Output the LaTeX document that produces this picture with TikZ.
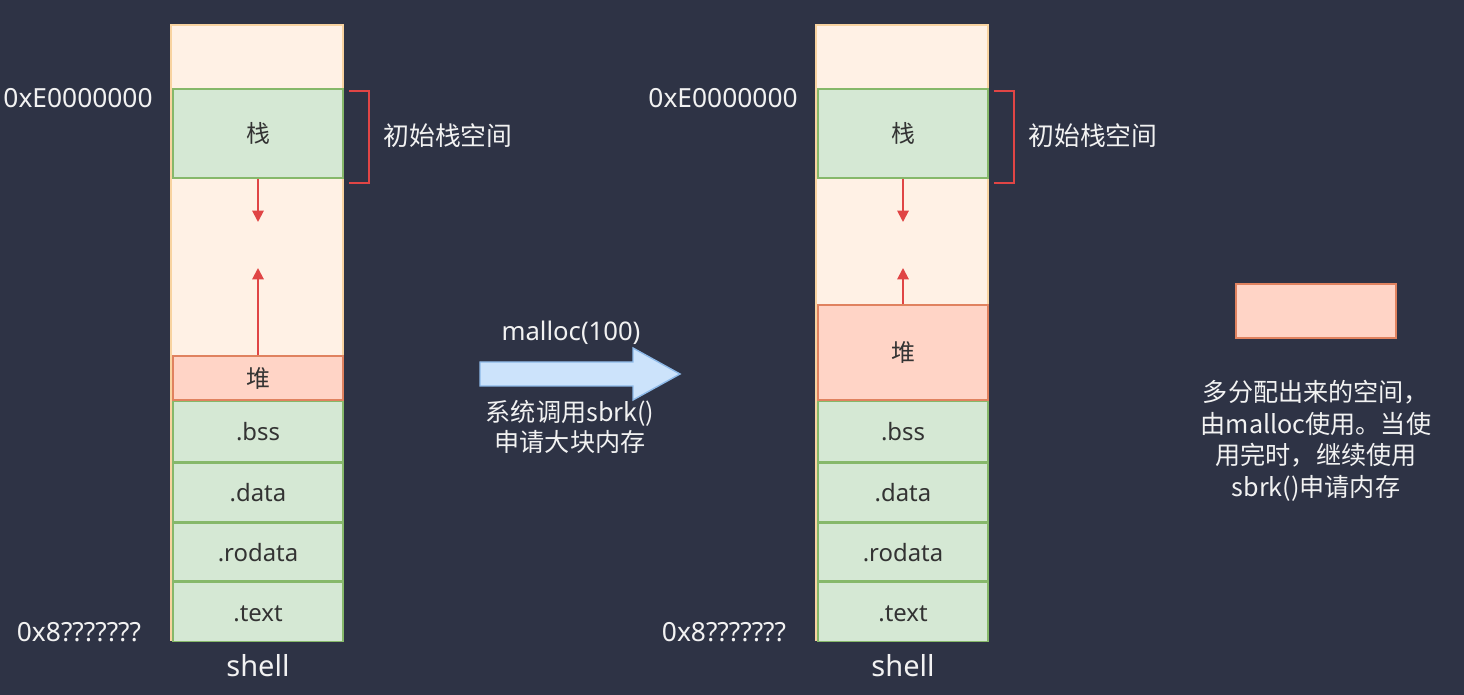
\documentclass[tikz,border=0pt]{standalone}
\usepackage{fontspec}
\setmainfont{Noto Sans}
\newfontfamily\cjk{Noto Sans CJK SC}
\usetikzlibrary{positioning,calc,arrows.meta}

\definecolor{bgslate}{HTML}{2E3345}
\definecolor{memfill}{HTML}{FFF1E5}
\definecolor{memline}{HTML}{F8D3A0}
\definecolor{segfill}{HTML}{D5E8D4}
\definecolor{segline}{HTML}{86B86A}
\definecolor{heapfill}{HTML}{FFD4C6}
\definecolor{heapline}{HTML}{E0825F}
\definecolor{growred}{HTML}{E04545}
\definecolor{arrowfill}{HTML}{CCE3FB}
\definecolor{arrowline}{HTML}{8DB9E8}
\definecolor{boxtext}{HTML}{333333}
\definecolor{lbltext}{HTML}{F2F2F2}

\tikzset{
  mem/.style={draw=memline, fill=memfill, line width=1.2pt, inner sep=0pt},
  seg/.style={draw=segline, fill=segfill, line width=0.8pt, inner sep=0pt,
    minimum width=3.4cm, text=boxtext, font=\fontsize{13.6}{16}\selectfont,
    text height=1.05em, text depth=0pt},
  heapbox/.style={seg, draw=heapline, fill=heapfill},
  growarrow/.style={draw=growred, line width=1.1pt, -{Triangle[length=6.5pt,width=6.5pt]}},
  lbl/.style={text=lbltext, inner sep=0pt, font=\fontsize{15}{18}\selectfont},
  oneline/.style={text height=1.05em, text depth=0pt},
}

\begin{document}
\begin{tikzpicture}[x=0.02cm,y=0.02cm]
    \fill[bgslate] (0,0) rectangle (1464,-695);
    \useasboundingbox (0,0) rectangle (1464,-695);

    % the two memory maps: before and after malloc
    \foreach \c/\dx/\heaptop in {L/0/356,R/645/305}{
        \node[mem, minimum width=3.44cm, minimum height=12.3cm] (proc\c) at ({\dx+257},-332.5) {};
        \node[seg, minimum height=1.78cm] (stack\c) at ({\dx+258},-133.5) {\cjk 栈};
        \node[heapbox, minimum height={(400-\heaptop)*0.02cm}] (heap\c) at ({\dx+258},{-(\heaptop+400)/2}) {\cjk 堆};
        \node[seg, minimum height=1.2cm, below=0pt of heap\c] (bss\c) {.bss};
        \node[seg, minimum height=1.18cm, below=0pt of bss\c] (data\c) {.data};
        \node[seg, minimum height=1.16cm, below=0pt of data\c] (rodata\c) {.rodata};
        \node[seg, minimum height=1.18cm, below=0pt of rodata\c] (text\c) {.text};
        \node[lbl, oneline, font=\fontsize{16.5}{20}\selectfont] (name\c) at ({\dx+258},-667) {shell};

        % growth directions
        \coordinate (downtip\c) at ({\dx+258},-222);
        \coordinate (uptip\c) at ({\dx+260},-268);
        \draw[growarrow] (stack\c.south) -- (downtip\c);
        \draw[growarrow] (heap\c.north) -- (heap\c.north |- uptip\c);

        % initial stack bracket
        \draw[growred, line width=1.1pt] ($(stack\c.north east)+(5,-3)$) -- ++(20,0)
            |- ($(stack\c.south east)+(5,-4)$);
        \node[lbl, oneline, anchor=west, font=\cjk\fontsize{14.7}{18}\selectfont] (init\c) at ({\dx+383},-136) {初始栈空间};

        \node[lbl, oneline, anchor=east] (high\c) at ({\dx+153},-98) {0xE0000000};
        \node[lbl, oneline] (low\c) at ({\dx+79},-632) {0x8???????};
    }

    % malloc step
    \filldraw[fill=arrowfill, draw=arrowline, line width=0.8pt]
        (480,-362) -- (633,-362) -- (633,-348) -- (680,-374) -- (633,-400) -- (633,-386) -- (480,-386) -- cycle;
    \node[lbl, oneline, font=\fontsize{14.6}{18}\selectfont] (call) at (571,-331) {malloc(100)};
    \node[lbl, align=center, font=\cjk\fontsize{14.3}{17}\selectfont] (sbrk) at (570,-427) {系统调用sbrk()\\申请大块内存};

    % legend
    \node[draw=heapline, fill=heapfill, line width=0.8pt, minimum width=3.2cm, minimum height=1.08cm] (extra) at (1316,-311) {};
    \node[lbl, align=center, font=\cjk\fontsize{14.3}{18}\selectfont] (note) at (1316,-441)
        {多分配出来的空间，\\由malloc使用。当使\\用完时，继续使用\\sbrk()申请内存};
\end{tikzpicture}
\end{document}
